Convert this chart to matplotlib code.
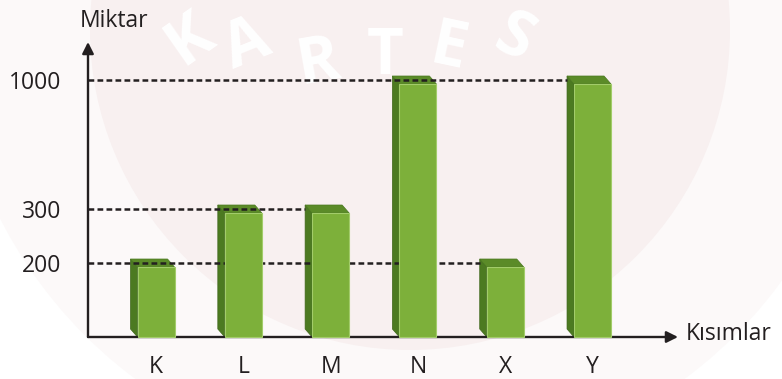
import numpy as np
import matplotlib.pyplot as plt
from matplotlib.patches import Polygon, Circle
from matplotlib.transforms import IdentityTransform

plt.rcParams['font.family'] = ['Open Sans', 'DejaVu Sans']

#--------- data ---------
categories = ['K', 'L', 'M', 'N', 'X', 'Y']
values = [200, 300, 300, 1000, 200, 1000]
tick_values = [200, 300, 1000]
# bar index where each dashed guide stops
guide_stop = [4, 2, 5]

#--------- styling ---------
W, H = 782, 379
FRONT = '#7db03a'
SIDE = '#4c7a21'
TOP = '#5b8b28'
EDGE = '#a2cc6a'
INK = '#231f20'
HALF_W = 18.5   # px, half width of front face
DX, DY = 7, 8   # px, depth of the 3d look

# the drawing is not to scale, so map levels to pixel heights by hand
knots_v = [0, 200, 300, 1000, 2000]
knots_p = [0, 74, 128, 257, 514]

def fwd(v):
    return np.interp(v, knots_v, knots_p)

def inv(p):
    return np.interp(p, knots_p, knots_v)

fig = plt.figure(figsize=(W / 100, H / 100), dpi=100)

# faint watermark in the background
fig.patches.append(Circle((410, H - 10), 460, transform=IdentityTransform(),
                          facecolor='#fcf9f9', edgecolor='none', zorder=-3))
fig.patches.append(Circle((410, H - 30), 320, transform=IdentityTransform(),
                          facecolor='#f8f0f0', edgecolor='none', zorder=-2))
wm = [('K', 190, 40, 35), ('A', 247, 45, 22), ('R', 318, 64, 10),
      ('T', 385, 58, 0), ('E', 448, 50, -12), ('S', 513, 40, -25)]
for ch, px, py, rot in wm:
    fig.text(px / W, 1 - py / H, ch, color='white', fontsize=46,
             fontweight='bold', rotation=rot, ha='center', va='center',
             zorder=-1)

ax = fig.add_axes([88 / W, 42 / H, 590 / W, 295 / H])
ax.patch.set_alpha(0)
ax.set_yscale('function', functions=(fwd, inv))
x = np.arange(len(categories))
ax.set_xlim(-0.779, 5.979)
ax.set_ylim(0, inv(295))
for s in ax.spines.values():
    s.set_visible(False)
ax.set_xticks(x)
ax.set_xticklabels(categories, fontsize=16.5, color=INK)
ax.set_yticks(tick_values)
ax.set_yticklabels([str(t) for t in tick_values], fontsize=16.5, color=INK)
ax.yaxis.set_minor_locator(plt.NullLocator())
ax.tick_params(axis='x', length=0, pad=13)
ax.tick_params(axis='y', length=0, pad=19)

# axes with arrow heads
arrow = dict(arrowstyle='-|>', lw=1.7, color=INK, mutation_scale=17,
             shrinkA=0, shrinkB=0)
ax.annotate('', xy=(0, 1), xytext=(0, 0), xycoords='axes fraction',
            arrowprops=arrow, annotation_clip=False)
ax.annotate('', xy=(1, 0), xytext=(0, 0), xycoords='axes fraction',
            arrowprops=arrow, annotation_clip=False)

# dashed guides from the y axis to the bar
px_per_x = 590 / (5.979 + 0.779)
for t, stop in zip(tick_values, guide_stop):
    xend = stop - (HALF_W + DX) / px_per_x
    ax.hlines(t, -0.779, xend, colors=INK, lw=1.8,
              linestyles=(0, (2.3, 1.3)), zorder=2)

# pseudo 3d bars, built in pixel space from the data transform
to_px = ax.transData.transform
for i, v in enumerate(values):
    cx, base = to_px((i, 0))
    _, vy = to_px((i, v))
    x0, x1 = cx - HALF_W, cx + HALF_W
    top = vy - DY / 2
    side = [(x0, base), (x0, top), (x0 - DX, top + DY), (x0 - DX, base + DY)]
    lid = [(x0, top), (x1, top), (x1 - DX, top + DY), (x0 - DX, top + DY)]
    front = [(x0, base), (x1, base), (x1, top), (x0, top)]
    ax.add_patch(Polygon(side, closed=True, transform=IdentityTransform(),
                         facecolor=SIDE, edgecolor='#3e661a', lw=0.5,
                         clip_on=False, zorder=1))
    ax.add_patch(Polygon(lid, closed=True, transform=IdentityTransform(),
                         facecolor=TOP, edgecolor='#4a7820', lw=0.5,
                         clip_on=False, zorder=1))
    ax.add_patch(Polygon(front, closed=True, transform=IdentityTransform(),
                         facecolor=FRONT, edgecolor=EDGE, lw=0.8,
                         clip_on=False, zorder=3))

fig.text(80 / W, 1 - 21 / H, 'Miktar', fontsize=16.5, color=INK,
         ha='left', va='center')
fig.text(686 / W, 1 - 334 / H, 'Kısımlar', fontsize=16.5, color=INK,
         ha='left', va='center')

fig.savefig('out.png', dpi=100)
